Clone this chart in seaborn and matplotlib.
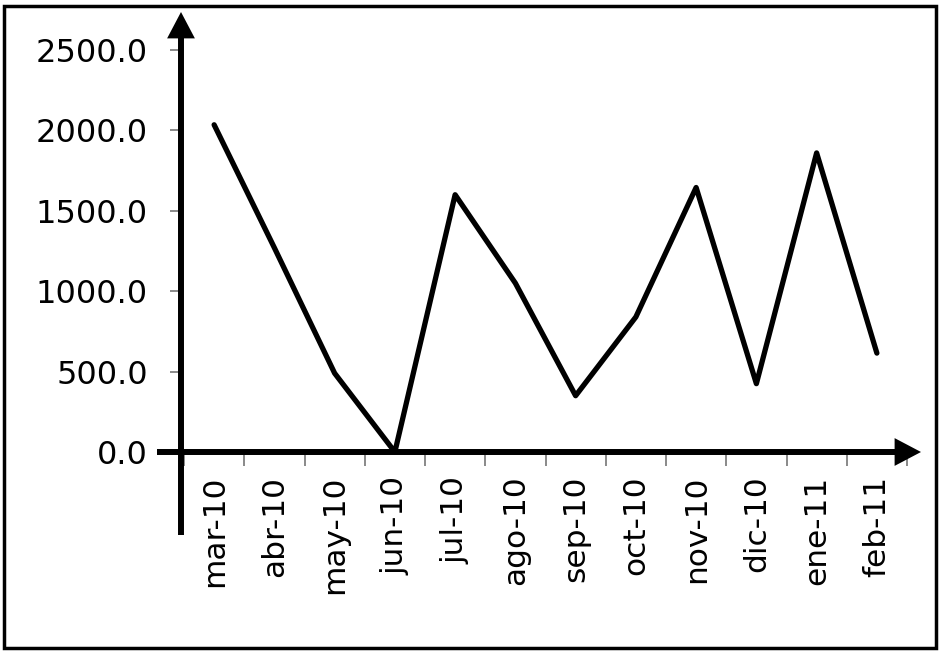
import numpy as np
import pandas as pd
import seaborn as sns
import matplotlib.pyplot as plt
from matplotlib.patches import Rectangle

months = ['mar-10', 'abr-10', 'may-10', 'jun-10', 'jul-10', 'ago-10',
          'sep-10', 'oct-10', 'nov-10', 'dic-10', 'ene-11', 'feb-11']
values = [2035, 1270, 490, 0, 1600, 1050, 350, 840, 1645, 425, 1860, 615]
y_ticks = [0, 500, 1000, 1500, 2000, 2500]

sns.set_style('white')
plt.rcParams['font.family'] = ['DejaVu Sans']

df = pd.DataFrame({'mes': months, 'valor': values})

W, H = 943, 660
fig = plt.figure(figsize=(W / 100, H / 100), dpi=100)
# axes box in pixels: x 184..907, y 50..452 (from top)
ax = fig.add_axes([184 / W, 1 - 452 / H, (907 - 184) / W, (452 - 50) / H])

sns.lineplot(data=df, x='mes', y='valor', ax=ax, color='black', linewidth=3.8,
             sort=False)

ax.set_xlim(-0.5, len(months) - 0.5)
ax.set_ylim(0, 2500)
ax.set_xlabel('')
ax.set_ylabel('')
for s in ax.spines.values():
    s.set_visible(False)

ax.set_yticks(y_ticks)
ax.set_yticklabels([f'{v:.1f}' for v in y_ticks], fontsize=23, color='black')
ax.tick_params(axis='y', length=10, width=1.3, color='#808080', pad=16, left=True)

ax.set_xticks(range(len(months)))
ax.set_xticklabels(months, rotation=90, fontsize=22.5, color='black')
ax.set_xticks(np.arange(-0.5, len(months), 1), minor=True)
ax.tick_params(axis='x', which='major', length=0, pad=17, bottom=True)
ax.tick_params(axis='x', which='minor', length=10, width=1.3, color='#808080',
               bottom=True)

# axis arrows (plain polygon arrows, sizes in points)
arrow = dict(width=4.3, headwidth=20, headlength=19, facecolor='black',
             edgecolor='none', lw=0, shrink=0)
ax.annotate('', xy=(181, H - 12), xytext=(181, H - 535), xycoords='figure pixels',
            textcoords='figure pixels', arrowprops=arrow, annotation_clip=False)
ax.annotate('', xy=(921, H - 452), xytext=(157, H - 452), xycoords='figure pixels',
            textcoords='figure pixels', arrowprops=arrow, annotation_clip=False)

# outer frame
fig.patches.append(Rectangle((4 / W, 1 - 648 / H), (936 - 4) / W, (648 - 6) / H,
                             transform=fig.transFigure, fill=False,
                             edgecolor='black', linewidth=2.5))

fig.savefig('out.png', dpi=100)
